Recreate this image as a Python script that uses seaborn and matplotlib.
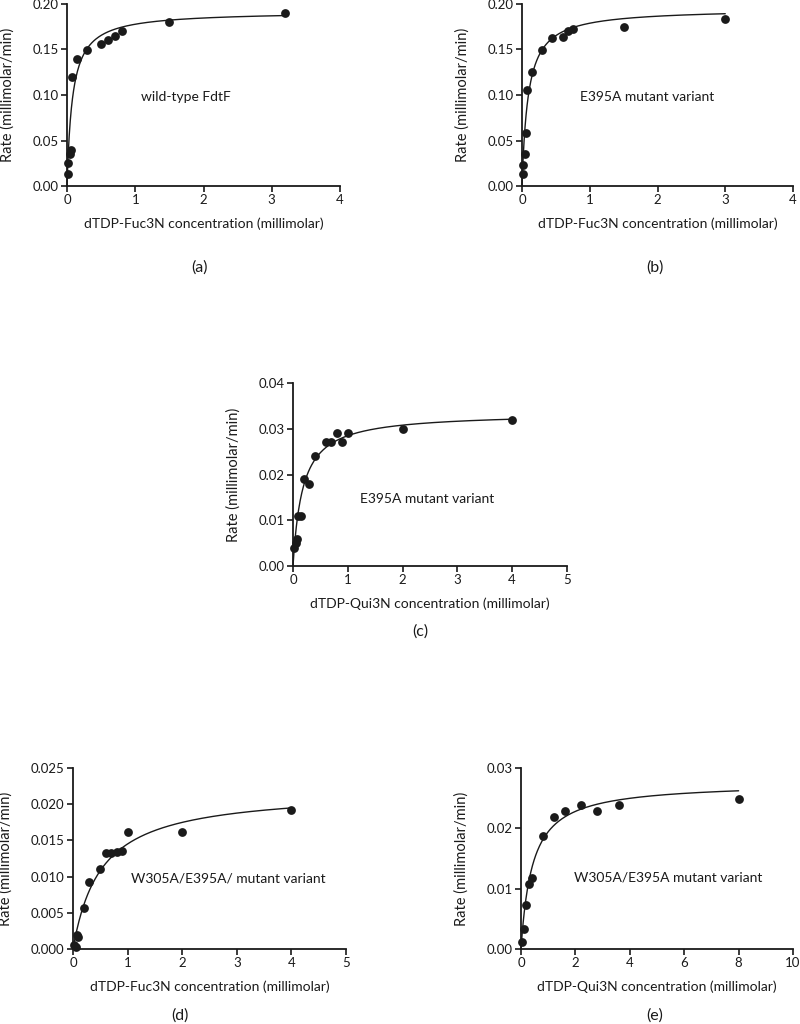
import numpy as np
import pandas as pd
import matplotlib
matplotlib.use("Agg")
import matplotlib.pyplot as plt
from matplotlib.ticker import FormatStrFormatter
import seaborn as sns

sns.set_theme(style="ticks")
plt.rcParams['font.family'] = ['Lato', 'DejaVu Sans']

# ---------------- data ----------------
a_x = [0.01, 0.02, 0.05, 0.06, 0.075, 0.15, 0.3, 0.5, 0.6, 0.7, 0.8, 1.5, 3.2]
a_y = [0.013, 0.025, 0.035, 0.040, 0.120, 0.140, 0.150, 0.156, 0.160, 0.165, 0.170, 0.180, 0.190]
a_fit = (0.192, 0.08)   # Vmax, Km

b_x = [0.01, 0.02, 0.05, 0.06, 0.08, 0.15, 0.3, 0.45, 0.6, 0.68, 0.75, 1.5, 3.0]
b_y = [0.013, 0.023, 0.035, 0.058, 0.105, 0.125, 0.150, 0.163, 0.164, 0.170, 0.173, 0.175, 0.183]
b_fit = (0.195, 0.09)

c_x = [0.02, 0.05, 0.075, 0.1, 0.15, 0.2, 0.3, 0.4, 0.6, 0.7, 0.8, 0.9, 1.0, 2.0, 4.0]
c_y = [0.004, 0.005, 0.006, 0.011, 0.011, 0.019, 0.018, 0.024, 0.027, 0.027, 0.029, 0.027, 0.029, 0.030, 0.032]
c_fit = (0.0335, 0.176)

d_x = [0.02, 0.05, 0.07, 0.1, 0.2, 0.3, 0.5, 0.6, 0.7, 0.8, 0.9, 1.0, 2.0, 4.0]
d_y = [0.0006, 0.0003, 0.0019, 0.0016, 0.0057, 0.0092, 0.0111, 0.0132, 0.0132, 0.0134, 0.0136, 0.0162, 0.0162, 0.0192]
d_fit = (0.0220, 0.516)

e_x = [0.05, 0.1, 0.2, 0.3, 0.4, 0.8, 1.2, 1.6, 2.2, 2.8, 3.6, 8.0]
e_y = [0.0012, 0.0033, 0.0073, 0.0107, 0.0118, 0.0188, 0.0219, 0.0229, 0.0239, 0.0229, 0.0239, 0.0249]
e_fit = (0.0276, 0.42)

xlabels = ["dTDP-Fuc3N concentration (millimolar)",
           "dTDP-Fuc3N concentration (millimolar)",
           "dTDP-Qui3N concentration (millimolar)",
           "dTDP-Fuc3N concentration (millimolar)",
           "dTDP-Qui3N concentration (millimolar)"]
notes = ["wild-type FdtF", "E395A mutant variant", "E395A mutant variant",
         "W305A/E395A/ mutant variant", "W305A/E395A mutant variant"]
tags = ["(a)", "(b)", "(c)", "(d)", "(e)"]
ylabel = "Rate (millimolar/min)"

# ---------------- layout ----------------
W, H = 800, 1024
fig = plt.figure(figsize=(W / 100, H / 100), dpi=100)

def rect(l, r, b, t):
    return [l / W, 1 - b / H, (r - l) / W, (b - t) / H]

panels = [
    dict(x=a_x, y=a_y, fit=a_fit, rect=rect(67, 340, 186, 4), xlim=4, xt=np.arange(0, 5, 1),
         ylim=0.20, yt=np.arange(0, 0.2001, 0.05), yf="%.2f", note=(1.74, 0.098), tag=(200, 268)),
    dict(x=b_x, y=b_y, fit=b_fit, rect=rect(522, 793, 186, 4), xlim=4, xt=np.arange(0, 5, 1),
         ylim=0.20, yt=np.arange(0, 0.2001, 0.05), yf="%.2f", note=(1.84, 0.098), tag=(655, 268)),
    dict(x=c_x, y=c_y, fit=c_fit, rect=rect(293, 567, 566, 383), xlim=5, xt=np.arange(0, 6, 1),
         ylim=0.04, yt=np.arange(0, 0.04001, 0.01), yf="%.2f", note=(2.45, 0.0146), tag=(420, 632)),
    dict(x=d_x, y=d_y, fit=d_fit, rect=rect(73, 346, 949, 768), xlim=5, xt=np.arange(0, 6, 1),
         ylim=0.025, yt=np.arange(0, 0.02501, 0.005), yf="%.3f", note=(2.84, 0.0098), tag=(180, 1016)),
    dict(x=e_x, y=e_y, fit=e_fit, rect=rect(521, 793, 949, 768), xlim=10, xt=np.arange(0, 11, 2),
         ylim=0.03, yt=np.arange(0, 0.03001, 0.01), yf="%.2f", note=(5.4, 0.0118), tag=(655, 1016)),
]

ink = "#1a1a1a"
for i, p in enumerate(panels):
    ax = fig.add_axes(p["rect"])
    vmax, km = p["fit"]
    xs = np.linspace(0, max(p["x"]), 400)
    fit_df = pd.DataFrame({"x": xs, "y": vmax * xs / (km + xs)})
    sns.lineplot(data=fit_df, x="x", y="y", ax=ax, color=ink, linewidth=1.0, clip_on=False)
    df = pd.DataFrame({"x": p["x"], "y": p["y"]})
    sns.scatterplot(data=df, x="x", y="y", ax=ax, color=ink, s=40, edgecolor=ink,
                    linewidth=0, clip_on=False, zorder=5)
    ax.set_xlim(0, p["xlim"])
    ax.set_ylim(0, p["ylim"])
    ax.set_xticks(p["xt"])
    ax.set_yticks(p["yt"])
    ax.yaxis.set_major_formatter(FormatStrFormatter(p["yf"]))
    ax.xaxis.set_major_formatter(FormatStrFormatter("%d"))
    sns.despine(ax=ax)
    for s in ["left", "bottom"]:
        ax.spines[s].set_linewidth(1.3)
        ax.spines[s].set_color(ink)
    ax.tick_params(direction="out", length=4, width=1.2, colors=ink, labelsize=9.5, pad=2)
    ax.set_xlabel(xlabels[i], fontsize=10, color=ink, labelpad=8)
    ax.set_ylabel(ylabel, fontsize=10.5, color=ink, labelpad=13)
    ax.text(p["note"][0], p["note"][1], notes[i], fontsize=10, color=ink,
            ha="center", va="center")
    fig.text(p["tag"][0] / W, 1 - p["tag"][1] / H, tags[i], fontsize=11.5, color=ink,
             ha="center", va="center")

fig.savefig("out.png", dpi=100, facecolor="white")
